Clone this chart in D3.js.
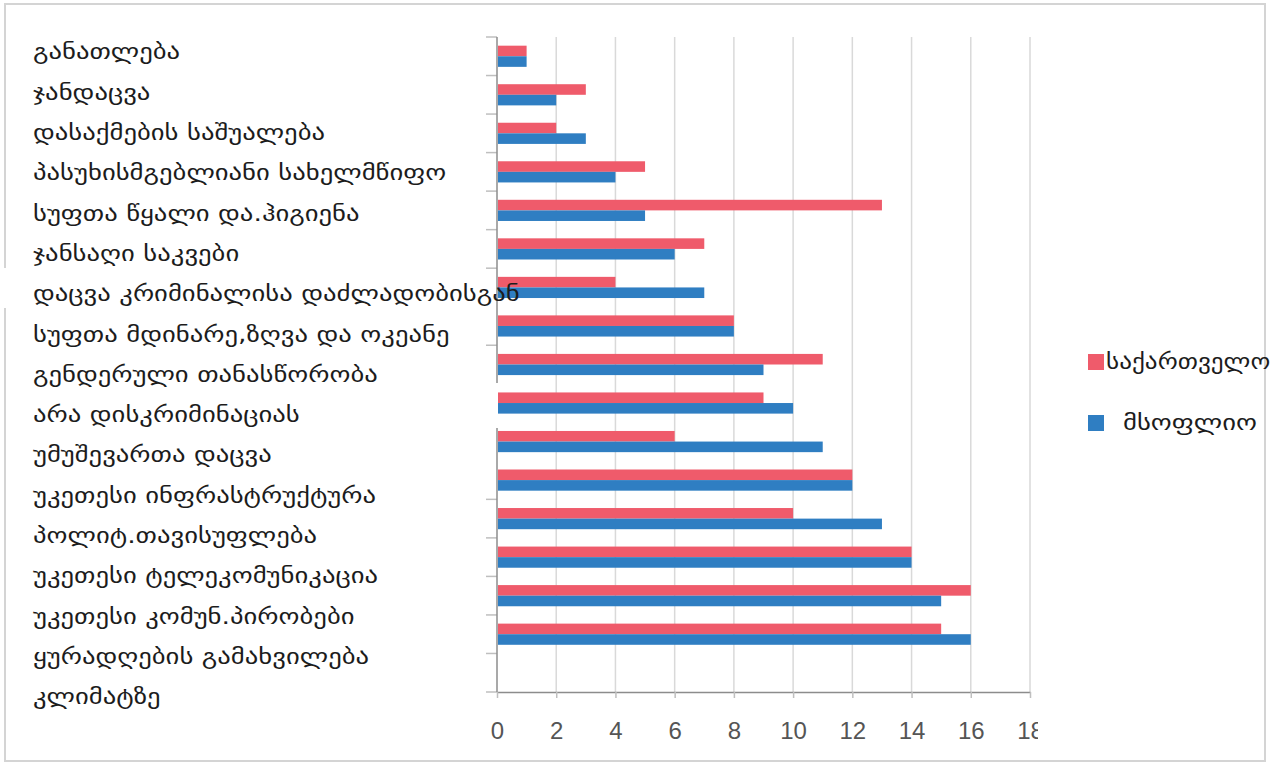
<!DOCTYPE html>
<html><head><meta charset="utf-8">
<script src="https://cdn.jsdelivr.net/npm/d3@7"></script>
<style>
html,body{margin:0;padding:0;background:#fff;}
svg{display:block;}
</style></head>
<body>
<svg id="chart" width="1282" height="766"></svg>
<script>
// ---- data ----
const labelLines = [
  "განათლება",
  "ჯანდაცვა",
  "დასაქმების საშუალება",
  "პასუხისმგებლიანი სახელმწიფო",
  "სუფთა წყალი და.ჰიგიენა",
  "ჯანსაღი საკვები",
  "დაცვა კრიმინალისა დაძლადობისგან",
  "სუფთა მდინარე,ზღვა და ოკეანე",
  "გენდერული თანასწორობა",
  "არა დისკრიმინაციას",
  "უმუშევართა დაცვა",
  "უკეთესი ინფრასტრუქტურა",
  "პოლიტ.თავისუფლება",
  "უკეთესი ტელეკომუნიკაცია",
  "უკეთესი კომუნ.პირობები",
  "ყურადღების გამახვილება",
  "კლიმატზე"
];
const categories = [
  "განათლება","ჯანდაცვა","დასაქმების საშუალება","პასუხისმგებლიანი სახელმწიფო",
  "სუფთა წყალი და.ჰიგიენა","ჯანსაღი საკვები","დაცვა კრიმინალისა დაძლადობისგან",
  "სუფთა მდინარე,ზღვა და ოკეანე","გენდერული თანასწორობა","არა დისკრიმინაციას",
  "უმუშევართა დაცვა","უკეთესი ინფრასტრუქტურა","პოლიტ.თავისუფლება",
  "უკეთესი ტელეკომუნიკაცია","უკეთესი კომუნ.პირობები",
  "ყურადღების გამახვილება კლიმატზე",
  ""   // empty last slot
];
const seriesNames = ["საქართველო", "მსოფლიო"];
const georgia = [1, 3, 2, 5, 13, 7, 4, 8, 11, 9, 6, 12, 10, 14, 16, 15, null];
const world   = [1, 2, 3, 4, 5, 6, 7, 8, 9, 10, 11, 12, 13, 14, 15, 16, null];
const xTicks = [0, 2, 4, 6, 8, 10, 12, 14, 16, 18];
const colors = ["#ef5b6b", "#2f7ec2"];

// ---- drawing ----
const svg = d3.select("#chart");
const FONT = "'DejaVu Sans', 'Noto Sans', sans-serif";
const SX = 1.27;

// outer frame (light grey)
const frame = d3.path();
frame.moveTo(5, 268); frame.lineTo(5, 4); frame.lineTo(1265, 4); frame.lineTo(1265, 761); frame.lineTo(5, 761); frame.lineTo(5, 308);
svg.append("path").attr("d", frame.toString()).attr("fill", "none").attr("stroke", "#d4d4d4").attr("stroke-width", 2);

const x = d3.scaleLinear().domain([0, 18]).range([497, 1030]);
const y = d3.scaleBand().domain(d3.range(categories.length)).range([37, 692]).padding(0);
const ySub = d3.scaleBand().domain(seriesNames).range([0, y.bandwidth()]).paddingInner(0).paddingOuter(0.82);

// gridlines
svg.append("g").selectAll("line").data(xTicks.slice(1)).join("line")
  .attr("x1", d => x(d)).attr("x2", d => x(d))
  .attr("y1", 37).attr("y2", 692)
  .attr("stroke", "#d9d9d9").attr("stroke-width", 1.5);

// bars
const rows = categories.map((c, i) => ({i, vals: [georgia[i], world[i]]}));
const g = svg.append("g");
rows.forEach(r => {
  r.vals.forEach((v, k) => {
    if (v == null) return;
    g.append("rect")
      .attr("x", x(0) + 1)
      .attr("y", y(r.i) + ySub(seriesNames[k]))
      .attr("width", x(v) - x(0) - 1)
      .attr("height", ySub.bandwidth())
      .attr("fill", colors[k]);
  });
});

// y axis line with gap + category ticks
const boundaries = d3.range(categories.length + 1).map(i => 37 + i * y.step());
const skip = new Set([7, 9, 10, 11]);
svg.append("g").selectAll("line").data(boundaries.filter((b, i) => !skip.has(i))).join("line")
  .attr("x1", 486).attr("x2", 497).attr("y1", d => d).attr("y2", d => d)
  .attr("stroke", "#bfbfbf").attr("stroke-width", 1.5);
svg.append("line").attr("x1", 497).attr("x2", 497).attr("y1", 37).attr("y2", 383)
  .attr("stroke", "#8c8c8c").attr("stroke-width", 1.5);
svg.append("line").attr("x1", 497).attr("x2", 497).attr("y1", 428).attr("y2", 692)
  .attr("stroke", "#8c8c8c").attr("stroke-width", 1.5);

// x axis
const clip = svg.append("clipPath").attr("id", "xclip");
clip.append("rect").attr("x", 0).attr("y", -5).attr("width", 1038).attr("height", 70);
const xAxis = svg.append("g").attr("transform", "translate(0,692)").attr("clip-path", "url(#xclip)")
  .call(d3.axisBottom(x).tickValues(xTicks).tickSize(6).tickPadding(24).tickSizeOuter(0));
xAxis.select(".domain").attr("stroke", "#8c8c8c").attr("stroke-width", 1.5);
xAxis.selectAll(".tick line").attr("stroke", "#bfbfbf").attr("stroke-width", 1.5);
xAxis.selectAll(".tick text").attr("fill", "#555").attr("font-family", "'Liberation Sans', Arial, sans-serif").attr("font-size", 24);

// category labels (separate text block on the left)
const ly = d3.scalePoint().domain(labelLines).range([52, 697]);
svg.append("g").attr("transform", `translate(33,0) scale(${SX},1)`)
  .selectAll("text").data(labelLines).join("text")
  .attr("x", 0).attr("y", d => ly(d)).attr("dy", "0.35em")
  .attr("font-family", FONT).attr("font-size", 21).attr("fill", "#1c1c1c")
  .text(d => d);

// legend
const leg = svg.append("g");
const legY = d3.scalePoint().domain(seriesNames).range([362, 423]);
seriesNames.forEach((s, k) => {
  leg.append("rect").attr("x", 1088).attr("y", legY(s) - 8).attr("width", 16).attr("height", 16).attr("fill", colors[k]);
  leg.append("text").attr("transform", `translate(${k === 0 ? 1106 : 1123},${legY(s)}) scale(${k === 0 ? 1.2 : SX},1)`)
    .attr("dy", "0.35em")
    .attr("font-family", FONT).attr("font-size", 21).attr("fill", "#1c1c1c").text(s);
});
</script>
</body></html>
